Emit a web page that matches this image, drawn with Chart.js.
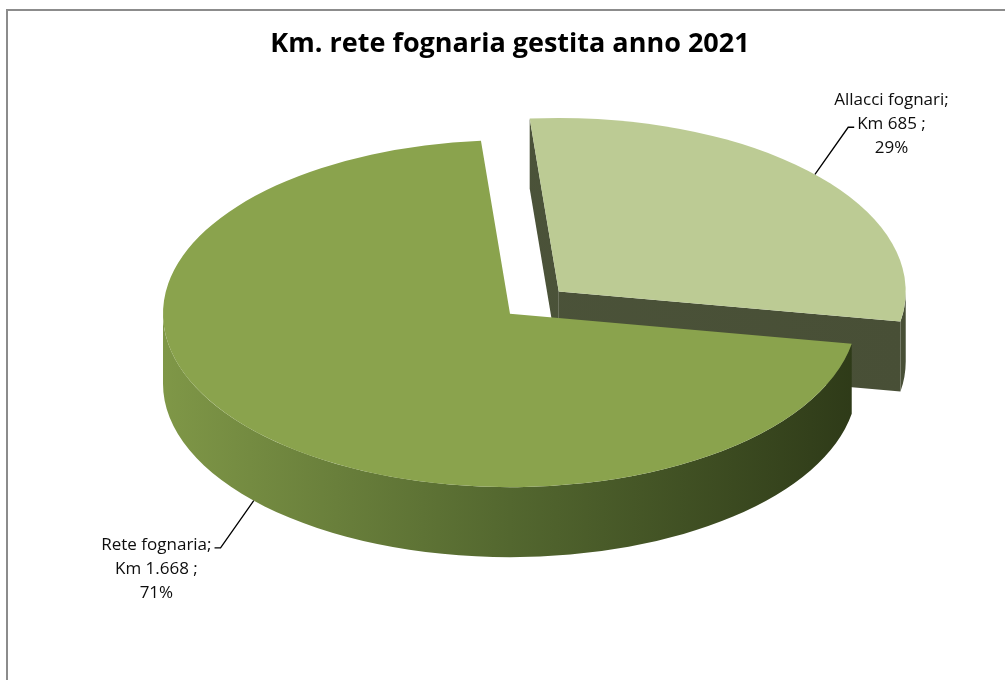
<!DOCTYPE html>
<html lang="it">
<head>
<meta charset="utf-8">
<title>Km. rete fognaria gestita anno 2021</title>
<script src="https://cdn.jsdelivr.net/npm/chart.js@4.4.1/dist/chart.umd.min.js"></script>
<style>
  html, body { margin: 0; padding: 0; background: #fff; overflow: hidden; }
  .cornice { position: absolute; left: 6px; top: 9px; width: 1100px; height: 800px; border: 2px solid #8c8c8c; box-sizing: border-box; }
  .wrap { position: absolute; left: 0; top: 0; width: 1005px; height: 680px; }
</style>
</head>
<body>
<div class="cornice"></div>
<div class="wrap"><canvas id="chartRete"></canvas></div>
<script>
// dati (Km gestiti 2021)
const categorie = ['Rete fognaria', 'Allacci fognari'];
const km = [1668, 685];
const titolo = 'Km. rete fognaria gestita anno 2021';

(() => {
  const fmt = new Intl.NumberFormat('it-IT');

  /* ============================================
     STILI
     ============================================ */
  const TOP_COLORS = ['#8aa34d', '#bccb94'];
  const SIDE_STOPS = [
    [[0, '#7f9747'], [0.5, '#53672f'], [1, '#2e3a18']],
    [[0, '#4d553b'], [1, '#484f36']]
  ];
  const TILT = 0.5;   // schiacciamento verticale della faccia superiore
  const DEPTH = 70;   // spessore della torta in px
  const FONT = "'Open Sans', sans-serif";

  function punto(f, a, dy) {
    return { x: f.cx + f.r * Math.cos(a), y: f.cy + f.r * TILT * Math.sin(a) + (dy || 0) };
  }

  function geometria(arc, i) {
    const p = arc.getProps(['x', 'y', 'startAngle', 'endAngle', 'outerRadius'], true);
    const mid = (p.startAngle + p.endAngle) / 2;
    const off = arc.options.offset || 0;
    return {
      i,
      start: p.startAngle,
      end: p.endAngle,
      mid,
      r: p.outerRadius,
      cx: p.x + Math.cos(mid) * off,
      cy: p.y + Math.sin(mid) * off * TILT,
      top: arc.options.backgroundColor
    };
  }

  /* ============================================
     DISEGNO FETTA 3D
     ============================================ */
  function drawSlice(ctx, f) {
    const g = ctx.createLinearGradient(f.cx - f.r, 0, f.cx + f.r, 0);
    SIDE_STOPS[f.i].forEach(([t, c]) => g.addColorStop(t, c));

    ctx.save();
    ctx.fillStyle = g;

    // facce di taglio (solo quelle rivolte verso chi guarda)
    [[f.start, -1], [f.end, 1]].forEach(([a, s]) => {
      if (Math.sin(a + s * Math.PI / 2) <= 0) return;
      const p = punto(f, a);
      ctx.beginPath();
      ctx.moveTo(f.cx, f.cy);
      ctx.lineTo(p.x, p.y);
      ctx.lineTo(p.x, p.y + DEPTH);
      ctx.lineTo(f.cx, f.cy + DEPTH);
      ctx.closePath();
      ctx.fill();
    });

    // parete esterna, metà anteriore
    [-2, 0, 2].forEach(k => {
      const lo = Math.max(f.start, k * Math.PI);
      const hi = Math.min(f.end, (k + 1) * Math.PI);
      if (hi <= lo) return;
      ctx.beginPath();
      ctx.ellipse(f.cx, f.cy, f.r, f.r * TILT, 0, lo, hi);
      ctx.ellipse(f.cx, f.cy + DEPTH, f.r, f.r * TILT, 0, hi, lo, true);
      ctx.closePath();
      ctx.fill();
    });

    // faccia superiore
    ctx.fillStyle = f.top;
    ctx.beginPath();
    ctx.moveTo(f.cx, f.cy);
    ctx.ellipse(f.cx, f.cy, f.r, f.r * TILT, 0, f.start, f.end);
    ctx.closePath();
    ctx.fill();
    ctx.restore();
  }

  /* ============================================
     ETICHETTE CON LINEA GUIDA
     ============================================ */
  function drawLabel(ctx, f, valori) {
    const tot = valori.reduce((a, b) => a + b, 0);
    const val = valori[f.i];
    const righe = [
      categorie[f.i] + ';',
      'Km ' + fmt.format(val) + ' ;',
      Math.round(val / tot * 100) + '%'
    ];
    const cos = Math.cos(f.mid), sin = Math.sin(f.mid);
    const sgn = cos < 0 ? -1 : 1;
    const a = punto(f, f.mid, sin > 0 ? DEPTH : 0);
    const gomito = { x: a.x + cos * 45, y: a.y + sin * 70 };
    const fine = { x: gomito.x + sgn * 6, y: gomito.y };

    ctx.save();
    ctx.strokeStyle = '#000';
    ctx.lineWidth = 1.3;
    ctx.beginPath();
    ctx.moveTo(a.x, a.y);
    ctx.lineTo(gomito.x, gomito.y);
    ctx.lineTo(fine.x, fine.y);
    ctx.stroke();

    ctx.font = `17px ${FONT}`;
    ctx.fillStyle = '#0d0d0d';
    ctx.textAlign = 'center';
    ctx.textBaseline = 'middle';
    const k = sin > 0 ? 0 : 1;       // riga agganciata alla linea guida
    const w = ctx.measureText(righe[k]).width;
    const xc = fine.x + sgn * (3 + w / 2);
    righe.forEach((t, i) => ctx.fillText(t, xc, fine.y - 3 + (i - k) * 24));
    ctx.restore();
  }

  const pie3d = {
    id: 'pie3d',
    beforeDatasetsDraw(chart) {
      const ctx = chart.ctx;
      const meta = chart.getDatasetMeta(0);
      const fette = meta.data.map((arc, i) => geometria(arc, i));
      // dal fondo verso il davanti
      fette.slice()
        .sort((a, b) => Math.sin(a.mid) - Math.sin(b.mid))
        .forEach(f => drawSlice(ctx, f));
      fette.forEach(f => drawLabel(ctx, f, chart.data.datasets[0].data));
      return false;
    }
  };

  /* ============================================
     GRAFICO
     ============================================ */
  new Chart(document.getElementById('chartRete'), {
    type: 'pie',
    data: {
      labels: categorie,
      datasets: [{
        data: km,
        backgroundColor: TOP_COLORS,
        borderWidth: 0,
        offset: [0, 66]
      }]
    },
    options: {
      responsive: true,
      maintainAspectRatio: false,
      animation: false,
      events: [],
      rotation: 100,
      radius: 347,
      layout: { padding: { left: 15, right: 0, top: 0, bottom: 113 } },
      plugins: {
        legend: { display: false },
        tooltip: { enabled: false },
        title: {
          display: true,
          text: titolo,
          color: '#000',
          font: { family: FONT, size: 27, weight: 'bold', lineHeight: 1.2 },
          padding: { top: 28, bottom: 0 }
        }
      }
    },
    plugins: [pie3d]
  });
})();
</script>
</body>
</html>
